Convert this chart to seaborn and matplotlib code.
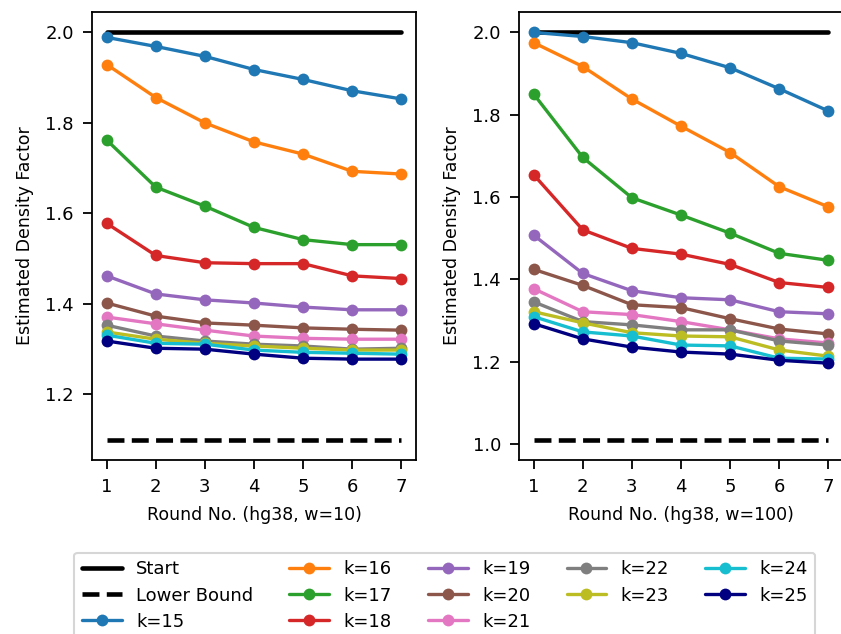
import numpy as np
import pandas as pd
import matplotlib
matplotlib.use("Agg")
import matplotlib.pyplot as plt
import seaborn as sns
from matplotlib.lines import Line2D

rounds = [1, 2, 3, 4, 5, 6, 7]
k_labels = ["k=15", "k=16", "k=17", "k=18", "k=19", "k=20", "k=21", "k=22", "k=23", "k=24", "k=25"]

left_vals = {
    "k=15": [1.989, 1.969, 1.947, 1.918, 1.896, 1.871, 1.853],
    "k=16": [1.929, 1.856, 1.800, 1.758, 1.731, 1.693, 1.687],
    "k=17": [1.762, 1.658, 1.616, 1.569, 1.542, 1.531, 1.531],
    "k=18": [1.578, 1.507, 1.491, 1.489, 1.489, 1.462, 1.456],
    "k=19": [1.462, 1.422, 1.409, 1.402, 1.393, 1.387, 1.387],
    "k=20": [1.402, 1.373, 1.358, 1.353, 1.347, 1.344, 1.342],
    "k=21": [1.371, 1.356, 1.342, 1.329, 1.324, 1.322, 1.322],
    "k=22": [1.353, 1.329, 1.318, 1.311, 1.307, 1.300, 1.302],
    "k=23": [1.338, 1.322, 1.313, 1.307, 1.302, 1.298, 1.298],
    "k=24": [1.331, 1.313, 1.311, 1.298, 1.293, 1.291, 1.289],
    "k=25": [1.318, 1.302, 1.300, 1.289, 1.280, 1.278, 1.278],
}
right_vals = {
    "k=15": [2.000, 1.990, 1.975, 1.949, 1.914, 1.863, 1.809],
    "k=16": [1.975, 1.917, 1.838, 1.772, 1.708, 1.625, 1.576],
    "k=17": [1.850, 1.696, 1.598, 1.556, 1.512, 1.463, 1.446],
    "k=18": [1.654, 1.520, 1.475, 1.461, 1.436, 1.392, 1.380],
    "k=19": [1.507, 1.414, 1.372, 1.355, 1.350, 1.321, 1.316],
    "k=20": [1.424, 1.385, 1.338, 1.331, 1.304, 1.279, 1.267],
    "k=21": [1.377, 1.321, 1.314, 1.297, 1.277, 1.255, 1.245],
    "k=22": [1.345, 1.297, 1.289, 1.277, 1.277, 1.250, 1.240],
    "k=23": [1.321, 1.294, 1.270, 1.262, 1.260, 1.228, 1.213],
    "k=24": [1.309, 1.272, 1.262, 1.240, 1.238, 1.208, 1.206],
    "k=25": [1.292, 1.255, 1.235, 1.223, 1.218, 1.203, 1.196],
}
start_value = 2.0
lower_bounds = [1.1, 1.01]
xlabels = ["Round No. (hg38, w=10)", "Round No. (hg38, w=100)"]
ylabel = "Estimated Density Factor"

colors = ["#1f77b4", "#ff7f0e", "#2ca02c", "#d62728", "#9467bd", "#8c564b",
          "#e377c2", "#7f7f7f", "#bcbd22", "#17becf", "#000080"]
palette = dict(zip(k_labels, colors))

sns.set_style("ticks", rc={"axes.edgecolor": "black", "xtick.color": "black",
                           "ytick.color": "black", "text.color": "black",
                           "axes.labelcolor": "black"})
plt.rcParams["font.family"] = ["DejaVu Sans"]

fig = plt.figure(figsize=(8.41, 6.34), dpi=100)
axes = [fig.add_axes([0.1094, 0.2744, 0.3853, 0.7066]),
        fig.add_axes([0.6171, 0.2744, 0.3853, 0.7066])]

for ax, vals, lb, xl in zip(axes, [left_vals, right_vals], lower_bounds, xlabels):
    df = pd.DataFrame([(r, k, v) for k in k_labels for r, v in zip(rounds, vals[k])],
                      columns=["round", "k", "value"])
    ax.plot([rounds[0], rounds[-1]], [start_value, start_value], color="black", lw=3.3, zorder=1.5)
    ax.plot([rounds[0], rounds[-1]], [lb, lb], color="black", lw=3.3, ls="--", zorder=1.5)
    sns.lineplot(data=df, x="round", y="value", hue="k", palette=palette, marker="o",
                 markersize=8.5, markeredgewidth=0, lw=2.4, ax=ax, legend=False, zorder=2)
    ax.set_xlabel(xl, fontsize=12.5, labelpad=7)
    ax.set_ylabel(ylabel, fontsize=12.5, labelpad=8)
    ax.set_xticks(rounds)
    ax.tick_params(labelsize=13, width=1.3, length=6.5, pad=6.5)
    for s in ax.spines.values():
        s.set_linewidth(1.3)
    ax.margins(x=0.05, y=0.05)

axes[0].set_yticks([1.2, 1.4, 1.6, 1.8, 2.0])
axes[1].set_yticks([1.0, 1.2, 1.4, 1.6, 1.8, 2.0])

handles = [Line2D([], [], color="black", lw=3.3),
           Line2D([], [], color="black", lw=3.3, ls="--")]
handles += [Line2D([], [], color=palette[k], lw=2.4, marker="o", markersize=8.5, markeredgewidth=0)
            for k in k_labels]
labels = ["Start", "Lower Bound"] + k_labels
leg = fig.legend(handles, labels, ncol=5, loc="upper center", bbox_to_anchor=(0.529, 0.128),
                 fontsize=13, frameon=True, handlelength=2.2, handletextpad=0.8,
                 columnspacing=2.0, labelspacing=0.45, borderaxespad=0, borderpad=0.42)
leg.get_frame().set_edgecolor("#cccccc")
leg.get_frame().set_linewidth(1.5)

fig.savefig("out.png", dpi=100)
